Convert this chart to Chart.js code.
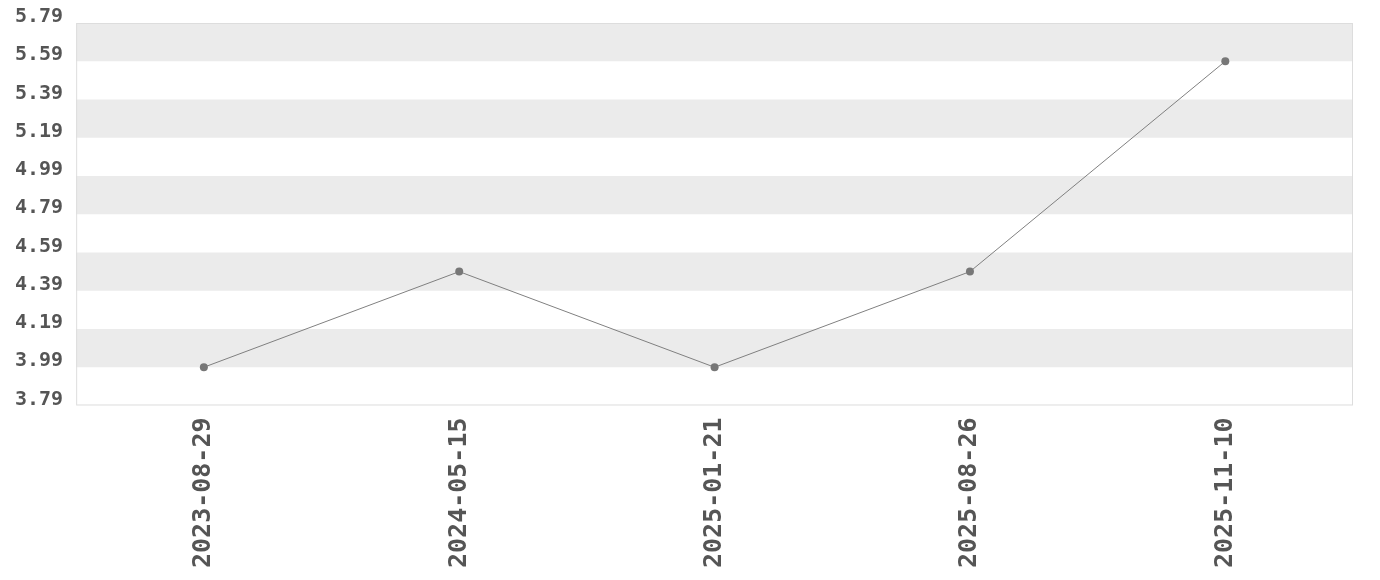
<!DOCTYPE html>
<html>
<head>
  <title>Value over time</title>
  <script src="https://cdn.jsdelivr.net/npm/chart.js"></script>
  <style>
    html, body { margin: 0; padding: 0; background: #fff; }
    #wrap { width: 1380px; height: 580px; }
  </style>
</head>
<body>
  <div id="wrap">
    <canvas id="valueChart"></canvas>
  </div>

  <script>
    // data
    const dates = ['2023-08-29', '2024-05-15', '2025-01-21', '2025-08-26', '2025-11-10'];
    const values = [3.99, 4.49, 3.99, 4.49, 5.59];
    const yTicks = [3.79, 3.99, 4.19, 4.39, 4.59, 4.79, 4.99, 5.19, 5.39, 5.59, 5.79];

    // alternating grey bands + thin frame round the plot area
    const bandPlugin = {
      id: 'bands',
      beforeDatasetsDraw(chart) {
        const { ctx, chartArea, scales } = chart;
        const y = scales.y;
        ctx.save();
        ctx.fillStyle = '#ebebeb';
        for (let i = yTicks.length - 1; i > 0; i -= 2) {
          const top = y.getPixelForValue(yTicks[i]);
          const bottom = y.getPixelForValue(yTicks[i - 1]);
          ctx.fillRect(chartArea.left, top, chartArea.right - chartArea.left, bottom - top);
        }
        ctx.strokeStyle = '#dddddd';
        ctx.lineWidth = 1;
        ctx.strokeRect(chartArea.left + 0.5, chartArea.top + 0.5,
          chartArea.right - chartArea.left - 1, chartArea.bottom - chartArea.top - 1);
        ctx.restore();
      }
    };

    new Chart(document.getElementById('valueChart'), {
      type: 'line',
      data: {
        labels: dates,
        datasets: [{
          data: values,
          borderColor: '#808080',
          borderWidth: 1,
          pointRadius: 4,
          pointBackgroundColor: '#777777',
          pointBorderWidth: 0,
          tension: 0,
          fill: false
        }]
      },
      options: {
        responsive: true,
        maintainAspectRatio: false,
        animation: false,
        layout: { padding: { top: 23, right: 27, bottom: 8, left: 10 } },
        plugins: {
          legend: { display: false },
          tooltip: { enabled: false }
        },
        scales: {
          x: {
            offset: true,
            grid: { display: false },
            border: { display: false },
            ticks: {
              maxRotation: 90,
              minRotation: 90,
              padding: 4,
              color: '#555555',
              font: { family: 'DejaVu Sans Mono', size: 25, weight: 'bold' }
            }
          },
          y: {
            min: 3.79,
            max: 5.79,
            afterBuildTicks(scale) {
              scale.ticks = yTicks.map(v => ({ value: v }));
            },
            grid: { display: false },
            border: { display: false },
            ticks: {
              padding: 5,
              labelOffset: -6,
              color: '#555555',
              font: { family: 'DejaVu Sans Mono', size: 20, weight: 'bold' },
              callback: v => v.toFixed(2)
            }
          }
        }
      },
      plugins: [bandPlugin]
    });
  </script>
</body>
</html>
